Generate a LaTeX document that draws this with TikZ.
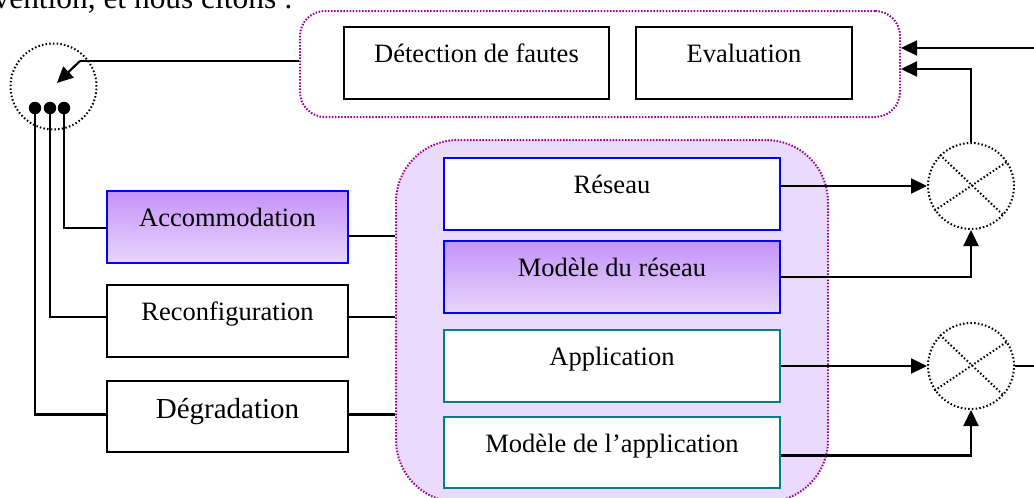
\documentclass[tikz,border=0pt]{standalone}
\usepackage{fontspec}
\setmainfont{Liberation Serif}
\usetikzlibrary{arrows.meta,calc}
\definecolor{frameviolet}{RGB}{153,0,153}
\definecolor{lav}{RGB}{234,218,252}
\definecolor{gtop}{RGB}{196,146,250}
\definecolor{gbot}{RGB}{232,214,252}
\definecolor{bblue}{RGB}{0,0,255}
\definecolor{tealb}{RGB}{0,128,128}
\tikzset{
  lbl/.style={font=\fontsize{26.5}{30}\selectfont},
  boxbase/.style={draw=black, line width=2pt, fill=white, inner xsep=0pt, inner ysep=0pt,
    text height=35pt, text depth=36.5pt, anchor=base, lbl},
  leftbox/.style={boxbase, minimum width=241pt},
  innerbox/.style={boxbase, minimum width=336pt},
  bluebox/.style={innerbox, draw=bblue},
  gradbox/.style={top color=gtop, bottom color=gbot},
  tealbox/.style={innerbox, draw=tealb},
  vframe/.style={draw=frameviolet, line width=2pt, dash pattern=on 1.5pt off 1.6pt},
  dotcirc/.style={draw=black, line width=2pt, dash pattern=on 1.5pt off 2.2pt},
  mult/.style={circle, dotcirc, minimum size=86pt, inner sep=0pt},
  conn/.style={line width=2.2pt, draw=black},
  arr/.style={conn, -{Triangle[length=16pt,width=15pt]}},
  pin/.style={circle, fill=black, minimum size=12.5pt, inner sep=0pt},
}
\begin{document}
\begin{tikzpicture}[x=1pt,y=-1pt]
\useasboundingbox (0,0) rectangle (1034,498);
\begin{scope}
\clip (0,0) rectangle (1034,498);
\node[anchor=base east, inner sep=0pt, font=\fontsize{31.4}{35}\selectfont] (intro) at (293,8) {vention, et nous citons :};
% frames
\node[vframe, rounded corners=25pt, minimum width=600pt, minimum height=106pt, inner sep=0pt] (tf) at (600,64) {};
\node[vframe, fill=lav, rounded corners=62pt, minimum width=432pt, minimum height=362pt, inner sep=0pt] (bf) at (612,321) {};
\end{scope}
% top boxes
\node[boxbase, minimum width=265pt] (det) at (476.5,62) {Détection de fautes};
\node[boxbase, minimum width=216pt] (eva) at (744,62) {Evaluation};
% left boxes
\node[leftbox, draw=bblue, gradbox] (acc) at (227.5,226) {Accommodation};
\node[leftbox] (rec) at (227.5,320) {Reconfiguration};
\node[leftbox, font=\fontsize{29}{32}\selectfont, text height=37pt, text depth=34pt] (deg) at (227.5,418) {Dégradation};
% inner boxes
\node[bluebox] (res) at (612,193) {Réseau};
\node[bluebox, gradbox] (mdr) at (612,276) {Modèle du réseau};
\node[tealbox] (app) at (612,365) {Application};
\node[tealbox, text height=35pt, text depth=36pt] (mda) at (612,452) {Modèle de l’application};
% circles
\node[mult] (lc) at (53.5,86.5) {};
\node[mult] (m1) at (971,186) {};
\node[mult] (m2) at (971,366) {};
\draw[dotcirc] (m1.135) -- (m1.-42) (m1.214) -- (m1.34);
\draw[dotcirc] (m2.135) -- (m2.-42) (m2.214) -- (m2.34);
% pins
\node[pin] (p1) at (35,108) {};
\node[pin] (p2) at (50,108) {};
\node[pin] (p3) at (64,108) {};
% left connectors
\coordinate (lcb) at (80,61);
\coordinate (lct) at (57,83);
\draw[conn] ([yshift=3pt]tf.west) -- (lcb);
\draw[arr] (lcb) -- (lct);
\draw[conn] (p1.center) |- ([yshift=2pt]deg.west);
\draw[conn] (p2.center) |- ([yshift=4pt]rec.west);
\draw[conn] (p3.center) |- ([yshift=-1pt]acc.west);
\draw[conn] ([yshift=-9pt]acc.east) -- ([yshift=-9pt]acc.east -| bf.west);
\draw[conn] ([yshift=4pt]rec.east) -- ([yshift=4pt]rec.east -| bf.west);
\draw[conn] ([yshift=2pt]deg.east) -- ([yshift=2pt]deg.east -| bf.west);
% right connectors
\draw[arr] (res.east |- m1.west) -- (m1.west);
\draw[arr] (mdr.east) -| (m1.south);
\draw[arr] (app.east |- m2.west) -- (m2.west);
\draw[arr] ([yshift=-3pt]mda.east) -| (m2.south);
\coordinate (r1) at (1034,366);
\draw[conn] (m2.east) -- (r1);
\draw[arr] (m1.north) |- ([yshift=-5pt]tf.east);
\coordinate (r2) at (1034,48);
\draw[arr] (r2) -- (r2 -| tf.east);
\end{tikzpicture}
\end{document}
